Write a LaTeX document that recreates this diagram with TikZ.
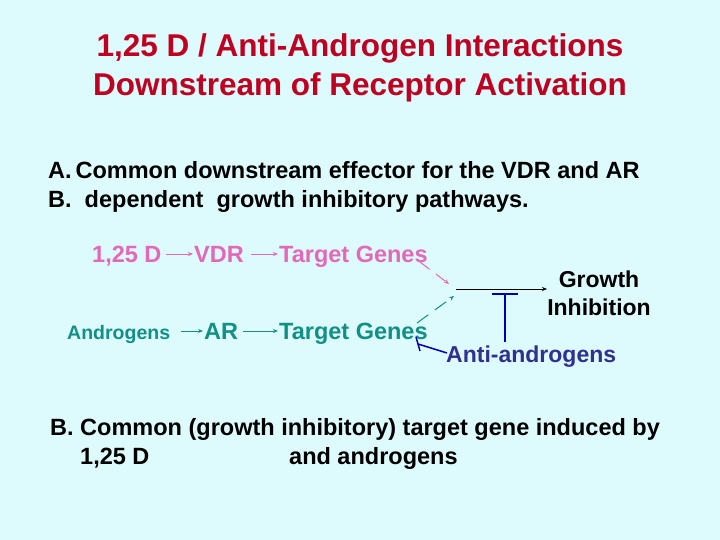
\documentclass[tikz,border=0pt]{standalone}
\usepackage{fontspec}
\setmainfont{Liberation Sans}
\usetikzlibrary{arrows.meta}
\definecolor{bg}{HTML}{DDFAFC}
\definecolor{ttl}{HTML}{C00020}
\definecolor{pnk}{HTML}{E468B8}
\definecolor{tea}{HTML}{119186}
\definecolor{blu}{HTML}{0000B0}
\definecolor{anti}{HTML}{303090}
\begin{document}
\begin{tikzpicture}[x=1pt,y=-1pt,
  txt/.style={inner sep=0pt,anchor=base west},
  arr/.style={-{Stealth[length=5pt,width=4pt]},line width=1pt}]
\fill[bg] (0,0) rectangle (720,540);
\useasboundingbox (0,0) rectangle (720,540);
\node[align=center,text=ttl,font=\bfseries\fontsize{31.5}{39}\selectfont] (title) at (360,68) {1,25 D / Anti-Androgen Interactions\\Downstream of Receptor Activation};
\node[txt,font=\bfseries\fontsize{23.5}{29}\selectfont,align=left,anchor=north west] (A) at (48,161) {A.\,Common downstream effector for the VDR and AR\\B.\ \ dependent\ \ growth inhibitory pathways.};
\begin{scope}[font=\bfseries\fontsize{23.5}{24}\selectfont,text=pnk]
\node[txt] (d) at (92,262) {1,25 D};
\node[txt] (vdr) at (194,262) {VDR};
\node[txt] (tg1) at (279,262) {Target Genes};
\end{scope}
\draw[arr,pnk] (166,254) -- (193,254);
\draw[arr,pnk] (251,254) -- (278,254);
\begin{scope}[font=\bfseries\fontsize{23.5}{24}\selectfont,text=tea]
\node[txt,font=\bfseries\fontsize{19.5}{20}\selectfont] (andr) at (67,339) {Androgens};
\node[txt] (ar) at (204,339) {AR};
\node[txt] (tg2) at (279,339) {Target Genes};
\end{scope}
\draw[arr,tea] (181,331) -- (203,331);
\draw[arr,tea] (243,331) -- (278,331);
\coordinate (p1) at (420,262); \coordinate (p2) at (449,284);
\draw[arr,pnk,dash pattern=on 12pt off 8pt] (p1) -- (p2);
\coordinate (t1) at (417,323); \coordinate (t2) at (454,296);
\draw[arr,tea,dash pattern=on 14pt off 8pt] (t1) -- (t2);
\coordinate (g0) at (456,289);
\node[align=center,font=\bfseries\fontsize{23}{28}\selectfont] (gi) at (599,293) {Growth\\Inhibition};
\draw[arr,black] (g0) -- (547,289);
\draw[blu,line width=2pt] (505,342) -- (505,294) (492,294) -- (518,294);
\node[txt,text=anti,font=\bfseries\fontsize{23}{24}\selectfont] (anti) at (446,362) {Anti-androgens};
\draw[blu,line width=1.5pt] (447,353) -- (418,344) (416,337) -- (420,351);
\node[txt,font=\bfseries\fontsize{23.5}{29}\selectfont] (B) at (50,435) {B. Common (growth inhibitory) target gene induced by};
\node[txt,font=\bfseries\fontsize{23.5}{29}\selectfont] (B2) at (80,464) {1,25 D};
\node[txt,font=\bfseries\fontsize{23.5}{29}\selectfont] (B3) at (289,464) {and androgens};
\end{tikzpicture}
\end{document}
